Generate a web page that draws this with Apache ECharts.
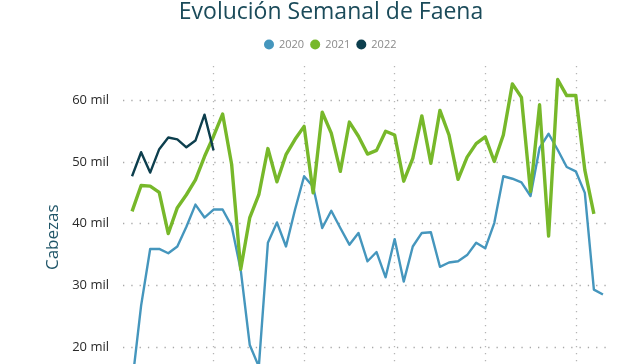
<!DOCTYPE html>
<html><head><meta charset="utf-8">
<script src="https://cdn.jsdelivr.net/npm/echarts@6/dist/echarts.min.js"></script>
<style>html,body{margin:0;padding:0;background:#fff;overflow:hidden}#c{width:640px;height:420px}</style>
</head><body><div id="c"></div>
<script>
const weeks = [1,2,3,4,5,6,7,8,9,10,11,12,13,14,15,16,17,18,19,20,21,22,23,24,25,26,27,28,29,30,31,32,33,34,35,36,37,38,39,40,41,42,43,44,45,46,47,48,49,50,51,52,53];
const v2020 = [14.0,26.7,35.9,35.9,35.2,36.3,39.5,43.1,41.0,42.3,42.3,39.6,32.5,20.3,16.8,36.9,40.2,36.3,42.3,47.7,46.0,39.3,42.1,39.3,36.6,38.5,33.9,35.4,31.3,37.5,30.6,36.3,38.5,38.6,33.0,33.7,33.9,34.9,36.9,36.0,40.1,47.7,47.3,46.7,44.5,52.3,54.6,52.0,49.2,48.5,45.0,29.3,28.5];
const v2021 = [42.0,46.2,46.1,45.1,38.4,42.6,44.7,47.1,50.9,54.2,57.8,49.6,32.6,41.0,44.7,52.2,46.8,51.2,53.7,55.8,45.0,58.1,54.7,48.5,56.5,54.2,51.3,51.9,55.0,54.4,46.9,50.6,57.5,49.8,58.4,54.4,47.2,50.8,53.0,54.1,50.1,54.4,62.7,60.5,45.2,59.3,38.0,63.4,60.8,60.8,48.7,41.6];
const v2022 = [47.7,51.6,48.3,52.1,54.0,53.7,52.4,53.5,57.7,51.9];
const seriesNames = ['2020','2021','2022'];
const yTickSuffix = ' mil';

const pairs = arr => arr.map((v,i) => [weeks[i], v]);
const chart = echarts.init(document.getElementById('c'), null, {renderer:'canvas'});
const FONT = '"Open Sans", "Noto Sans", sans-serif';
chart.setOption({
  animation: false,
  backgroundColor: '#ffffff',
  title: {
    text: 'Evolución Semanal de Faena',
    left: 331, textAlign: 'center', top: 1, padding: 0,
    textStyle: {fontFamily: FONT, fontSize: 23, fontWeight: 'normal', color: '#1b4b5a'}
  },
  legend: {
    data: seriesNames, left: 264, top: 39, padding: 0,
    icon: 'circle', itemWidth: 10, itemHeight: 10, itemGap: 6,
    textStyle: {fontFamily: FONT, fontSize: 11, color: '#8a8a8a'}
  },
  grid: {left: 123, right: 28, top: 66, bottom: 11.5, containLabel: false},
  xAxis: {
    type: 'value', min: 0, max: 54, interval: 10,
    axisLine: {show: false}, axisTick: {show: false}, axisLabel: {show: false},
    splitLine: {show: true, showMinLine: false, showMaxLine: false,
      lineStyle: {color: '#b5b5b5', width: 1.3, type: [1.3, 5.7]}}
  },
  yAxis: {
    type: 'value', min: 10, max: 65.6, interval: 10,
    name: 'Cabezas', nameLocation: 'middle', nameRotate: 90, nameGap: 61,
    nameTextStyle: {fontFamily: FONT, fontSize: 17, color: '#1f5568'},
    axisLine: {show: false}, axisTick: {show: false},
    axisLabel: {formatter: v => v + yTickSuffix, margin: 14, showMaxLabel: false, fontFamily: FONT, fontSize: 13, color: '#2a2a2a'},
    splitLine: {show: true, showMaxLine: false,
      lineStyle: {color: '#a8a8a8', width: 1.3, type: [1.3, 7]}}
  },
  series: [
    {name: seriesNames[0], type: 'line', data: pairs(v2020), showSymbol: false, symbol: 'none',
      color: '#4596bd', lineStyle: {width: 2.4, color: '#4596bd', join: 'round'}},
    {name: seriesNames[1], type: 'line', data: pairs(v2021), showSymbol: false, symbol: 'none',
      color: '#77b82a', lineStyle: {width: 3.4, color: '#77b82a', join: 'round'}},
    {name: seriesNames[2], type: 'line', data: pairs(v2022), showSymbol: false, symbol: 'none',
      color: '#0d3f4e', lineStyle: {width: 2.4, color: '#0d3f4e', join: 'round'}}
  ]
});
</script></body></html>
